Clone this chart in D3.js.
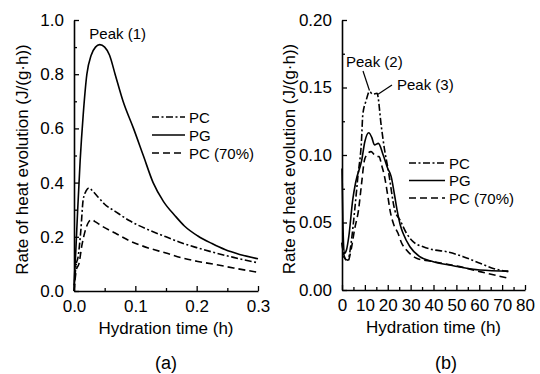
<!DOCTYPE html>
<html>
<head>
<meta charset="utf-8">
<script src="https://cdn.jsdelivr.net/npm/d3@7"></script>
<style>
  body { margin: 0; background: #fff; }
  text { font-family: Arial, "Liberation Sans", sans-serif; fill: #000; }
</style>
</head>
<body>
<div id="chart"></div>
<script>
// panel (a): early hydration, time in h
const pgA = [[0,0.02],[0.003,0.15],[0.006,0.3],[0.01,0.48],[0.015,0.65],[0.021,0.8],[0.028,0.87],[0.035,0.9],[0.042,0.909],[0.05,0.9],[0.058,0.87],[0.067,0.8],[0.08,0.7],[0.097,0.6],[0.113,0.5],[0.129,0.4],[0.146,0.33],[0.165,0.277],[0.18,0.24],[0.202,0.203],[0.225,0.175],[0.246,0.153],[0.27,0.135],[0.3,0.119]];
const pcA = [[0,0.0],[0.003,0.09],[0.007,0.13],[0.011,0.22],[0.015,0.337],[0.02,0.37],[0.0245,0.38],[0.03,0.37],[0.04,0.345],[0.05,0.32],[0.067,0.294],[0.09,0.26],[0.121,0.226],[0.15,0.2],[0.176,0.177],[0.2,0.16],[0.23,0.141],[0.26,0.124],[0.3,0.104]];
const pc70A = [[0,0],[0.004,0.08],[0.008,0.1],[0.013,0.17],[0.018,0.22],[0.024,0.255],[0.029,0.263],[0.035,0.255],[0.045,0.24],[0.067,0.214],[0.09,0.186],[0.121,0.159],[0.15,0.14],[0.176,0.122],[0.2,0.11],[0.23,0.098],[0.26,0.085],[0.3,0.069]];

// panel (b): main hydration, time in h
const pgB = [[0,0.09],[0.4,0.05],[1,0.027],[2,0.03],[3,0.04],[4.7,0.067],[6,0.08],[8.6,0.096],[10,0.11],[11.7,0.1165],[13,0.113],[14.2,0.1075],[15.9,0.1086],[18,0.1],[20,0.09],[21.5,0.084],[23,0.07],[24.1,0.059],[25.5,0.048],[26.7,0.042],[29.7,0.032],[34,0.0247],[39.9,0.021],[48.6,0.018],[60.3,0.0148],[72.7,0.014]];
const pcB = [[0,0.035],[1,0.024],[2.5,0.022],[4,0.035],[5.6,0.06],[7,0.085],[8.5,0.11],[9.1,0.13],[10.5,0.14],[12,0.147],[13.5,0.145],[15.3,0.1457],[17.2,0.121],[18.5,0.105],[20.2,0.089],[23.1,0.059],[25.3,0.052],[28.2,0.042],[31.1,0.0358],[35.5,0.032],[40.6,0.0296],[45.7,0.0284],[53,0.0247],[60.3,0.0198],[66.1,0.016],[72.7,0.0136]];
const pc70B = [[0,0.035],[1,0.025],[2.5,0.021],[4,0.03],[5.5,0.045],[7.2,0.059],[8.5,0.078],[9.8,0.096],[11,0.1005],[12.7,0.1025],[14,0.1005],[15,0.099],[16.2,0.0988],[17.4,0.092],[18.6,0.084],[20,0.07],[21,0.059],[22.5,0.049],[24.5,0.042],[26,0.035],[28.2,0.0296],[32.6,0.0235],[39.9,0.021],[51.5,0.0173],[60.3,0.0136],[72.7,0.0087]];

const seriesNames = ["PC", "PG", "PC (70%)"];
const dashes = ["7,2.5,2,2.5", null, "7,4"];

const svg = d3.select("#chart").append("svg")
    .attr("width", 540)
    .attr("height", 374);

function panel(opts) {
  const x = d3.scaleLinear().domain(opts.xDomain).range([opts.left, opts.right]);
  const y = d3.scaleLinear().domain(opts.yDomain).range([opts.bottom, opts.top]);
  const g = svg.append("g");

  // minor ticks first, then major ones with labels
  g.append("g")
    .attr("transform", `translate(0,${opts.bottom})`)
    .call(d3.axisTop(x).tickValues(opts.xMinor).tickSize(3).tickFormat(""))
    .call(a => a.select(".domain").remove());
  g.append("g")
    .attr("transform", `translate(${opts.left},0)`)
    .call(d3.axisRight(y).tickValues(opts.yMinor).tickSize(3).tickFormat(""))
    .call(a => a.select(".domain").remove());

  const xa = g.append("g")
    .attr("transform", `translate(0,${opts.bottom})`)
    .call(d3.axisBottom(x).tickValues(opts.xTicks).tickSizeInner(-5).tickSizeOuter(0).tickPadding(9).tickFormat(opts.xFmt));
  const ya = g.append("g")
    .attr("transform", `translate(${opts.left},0)`)
    .call(d3.axisLeft(y).tickValues(opts.yTicks).tickSizeInner(-5).tickSizeOuter(0).tickPadding(10).tickFormat(opts.yFmt));
  [xa, ya].forEach(a => {
    a.selectAll("text").attr("font-size", 17).attr("font-family", "Arial, 'Liberation Sans', sans-serif");
    a.select(".domain").attr("stroke-width", 1.6);
    a.selectAll(".tick line").attr("stroke-width", 1.3);
  });
  g.selectAll(".tick line").attr("stroke-width", 1.3);

  g.append("text")
    .attr("x", (opts.left + opts.right) / 2)
    .attr("y", opts.bottom + 43)
    .attr("text-anchor", "middle")
    .attr("font-size", 17)
    .text("Hydration time (h)");
  g.append("text")
    .attr("transform", `translate(${opts.yTitleX},${(opts.top + opts.bottom) / 2 + 4}) rotate(-90)`)
    .attr("text-anchor", "middle")
    .attr("font-size", 17)
    .text("Rate of heat evolution (J/(g\u00b7h))");
  g.append("text")
    .attr("x", opts.tagX)
    .attr("y", 369)
    .attr("text-anchor", "middle")
    .attr("font-size", 18)
    .text(opts.tag);

  const line = d3.line().x(d => x(d[0])).y(d => y(d[1])).curve(d3.curveMonotoneX);
  opts.series.forEach((s, i) => {
    g.append("path")
      .datum(s)
      .attr("d", line)
      .attr("fill", "none")
      .attr("stroke", "#000")
      .attr("stroke-width", 1.6)
      .attr("stroke-dasharray", dashes[i]);
  });

  // legend
  seriesNames.forEach((n, i) => {
    const ly = opts.legY + i * opts.legStep;
    g.append("line")
      .attr("x1", opts.legX).attr("x2", opts.legX + opts.legLen)
      .attr("y1", ly).attr("y2", ly)
      .attr("stroke", "#000").attr("stroke-width", 1.6)
      .attr("stroke-dasharray", dashes[i]);
    g.append("text")
      .attr("x", opts.legX + opts.legLen + 4)
      .attr("y", ly + 5.5)
      .attr("font-size", 15)
      .text(n);
  });
  return {g, x, y};
}

const a = panel({
  left: 74, right: 258, top: 20, bottom: 291,
  xDomain: [0, 0.3], yDomain: [0, 1.0],
  xTicks: [0, 0.1, 0.2, 0.3], xMinor: [0.05, 0.15, 0.25],
  yTicks: [0, 0.2, 0.4, 0.6, 0.8, 1.0], yMinor: [0.1, 0.3, 0.5, 0.7, 0.9],
  xFmt: d3.format(".1f"), yFmt: d3.format(".1f"),
  yTitleX: 28, tagX: 166, tag: "(a)",
  series: [pcA, pgA, pc70A],
  legX: 152, legLen: 33, legY: 117, legStep: 18
});
a.g.append("text")
  .attr("x", a.x(0.043) - 11).attr("y", a.y(0.909) - 6)
  .attr("font-size", 15)
  .text("Peak (1)");

const b = panel({
  left: 342, right: 525, top: 20, bottom: 290,
  xDomain: [0, 80], yDomain: [0, 0.2],
  xTicks: d3.range(0, 81, 10), xMinor: d3.range(5, 80, 10),
  yTicks: [0, 0.05, 0.1, 0.15, 0.2], yMinor: [0.025, 0.075, 0.125, 0.175],
  xFmt: d3.format("d"), yFmt: d3.format(".2f"),
  yTitleX: 295, tagX: 446, tag: "(b)",
  series: [pcB, pgB, pc70B],
  legX: 409, legLen: 36, legY: 163, legStep: 17.5
});
// peak labels with leader lines
b.g.append("text").attr("x", 346).attr("y", 67).attr("font-size", 15).text("Peak (2)");
b.g.append("line")
  .attr("x1", 363).attr("y1", 71)
  .attr("x2", b.x(12)).attr("y2", b.y(0.147) - 1)
  .attr("stroke", "#000").attr("stroke-width", 1.2);
b.g.append("text").attr("x", 397).attr("y", 90).attr("font-size", 15).text("Peak (3)");
b.g.append("line")
  .attr("x1", 392).attr("y1", 85)
  .attr("x2", b.x(15.3) + 1).attr("y2", b.y(0.1457) + 1)
  .attr("stroke", "#000").attr("stroke-width", 1.2);
</script>
</body>
</html>
